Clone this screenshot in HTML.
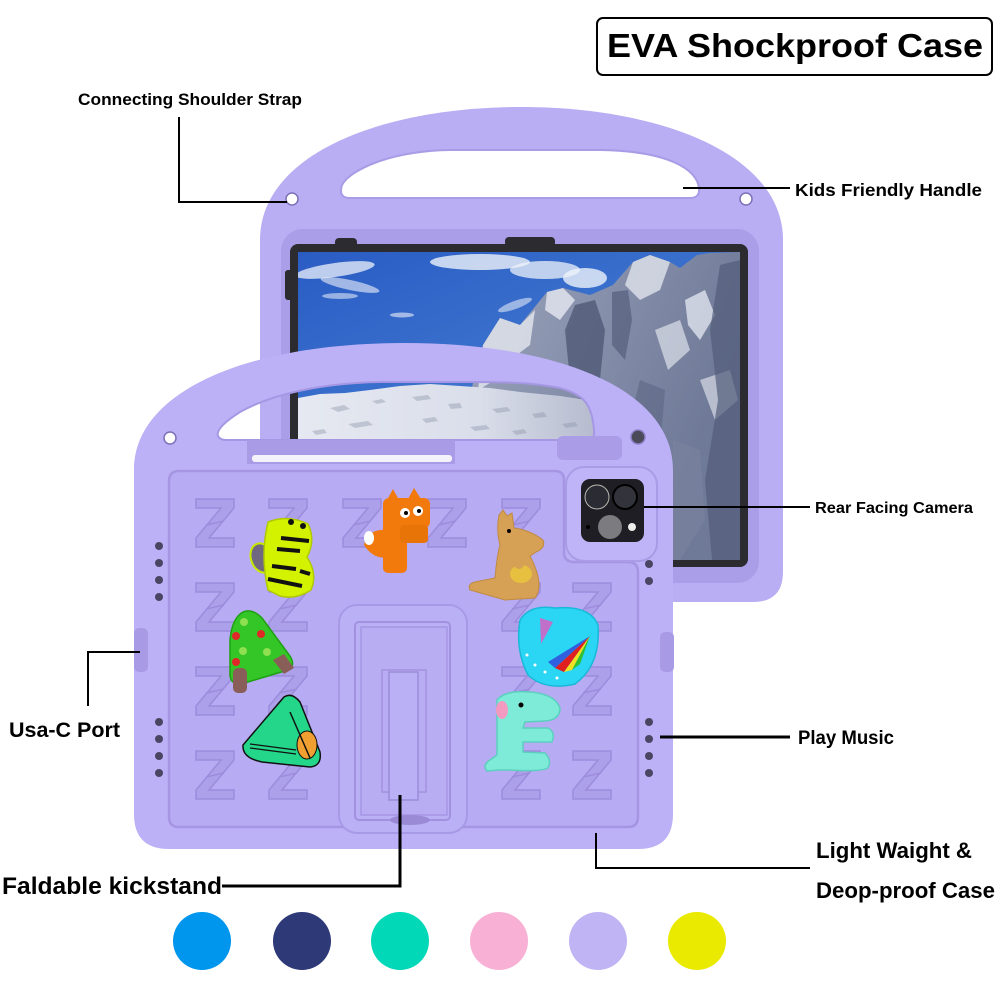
<!DOCTYPE html>
<html><head><meta charset="utf-8"><style>
html,body{margin:0;padding:0;background:#fff;}
svg{display:block;}
text{font-family:"Liberation Sans",Arial,sans-serif;font-weight:bold;fill:#000;}
</style></head><body>
<svg width="1000" height="1000" viewBox="0 0 1000 1000" xmlns="http://www.w3.org/2000/svg">
<defs>
<linearGradient id="sky" x1="0" y1="0" x2="0.6" y2="1">
<stop offset="0" stop-color="#2a5cc4"/><stop offset="1" stop-color="#4f8ad8"/>
</linearGradient>
<linearGradient id="mnt" x1="0" y1="0" x2="1" y2="0.3">
<stop offset="0" stop-color="#cfd4e2"/><stop offset="0.4" stop-color="#9aa2ba"/><stop offset="1" stop-color="#6f7a98"/>
</linearGradient>
<linearGradient id="snow" x1="0" y1="0" x2="1" y2="0">
<stop offset="0" stop-color="#e6e9f1"/><stop offset="0.6" stop-color="#dadeea"/><stop offset="1" stop-color="#b4bacd"/>
</linearGradient>
<clipPath id="scr"><rect x="298" y="252" width="442" height="308"/></clipPath>
<path id="z" d="M0,0 L38,0 L38,9 L13,39 L38,39 L38,48 L0,48 L0,39 L25,9 L0,9 Z M10,26 L28,22" />
</defs>

<!-- Title box -->
<rect x="597" y="18" width="395" height="57" rx="6" fill="#fff" stroke="#000" stroke-width="2"/>
<text x="607" y="57" font-size="33" textLength="376" lengthAdjust="spacingAndGlyphs">EVA Shockproof Case</text>

<!-- BACK CASE -->
<path d="M260,240 C260,155 380,107 521,107 C662,107 783,155 783,240 L783,572 Q783,602 753,602 L290,602 Q260,602 260,572 Z" fill="#b9adf3"/>
<path d="M350,198 L690,198 Q700,198 699,188 C697,170 670,151 600,150 L450,150 C390,151 350,170 342,185 Q338,198 350,198 Z" fill="#fff" stroke="#a99be6" stroke-width="2"/>
<circle cx="292" cy="199" r="6" fill="#fff" stroke="#7d70b8" stroke-width="1.5"/>
<circle cx="746" cy="199" r="6" fill="#fff" stroke="#7d70b8" stroke-width="1.5"/>
<rect x="281" y="229" width="478" height="354" rx="22" fill="#ab9ee8"/>
<rect x="290" y="244" width="458" height="323" rx="8" fill="#2b2b30"/>
<rect x="335" y="238" width="22" height="10" rx="4" fill="#2b2b30"/>
<rect x="505" y="237" width="50" height="10" rx="4" fill="#2b2b30"/>
<rect x="285" y="270" width="8" height="30" rx="3" fill="#2b2b30"/>

<!-- screen -->
<g clip-path="url(#scr)">
<rect x="298" y="252" width="442" height="308" fill="url(#sky)"/>
<g fill="#eef2fa">
<ellipse cx="335" cy="270" rx="40" ry="7" opacity="0.75" transform="rotate(-8 335 270)"/>
<ellipse cx="350" cy="285" rx="30" ry="5" opacity="0.6" transform="rotate(12 350 285)"/>
<ellipse cx="340" cy="296" rx="18" ry="3" opacity="0.55"/>
<ellipse cx="480" cy="262" rx="50" ry="8" opacity="0.8"/>
<ellipse cx="545" cy="270" rx="35" ry="9" opacity="0.75"/>
<ellipse cx="585" cy="278" rx="22" ry="10" opacity="0.8"/>
<ellipse cx="515" cy="305" rx="18" ry="4" opacity="0.55" transform="rotate(-20 515 305)"/>
<ellipse cx="402" cy="315" rx="12" ry="2.5" opacity="0.6"/>
</g>
<path d="M470,395 L483,345 L500,318 L520,325 L547,292 L563,288 L590,295 L613,285 L633,262 L650,255 L670,262 L680,268 L697,255 L710,253 L740,252 L740,560 L298,560 L298,420 Z" fill="url(#mnt)"/>
<path d="M483,345 L500,318 L520,325 L535,310 L530,345 L510,360 L495,380 L478,390 Z" fill="#e3e7ef" opacity="0.8"/>
<path d="M547,292 L563,288 L575,300 L560,320 L545,310 Z" fill="#e6e9f1" opacity="0.8"/>
<path d="M633,262 L650,255 L670,262 L660,290 L640,300 L625,285 Z" fill="#e0e4ec" opacity="0.8"/>
<path d="M685,300 L705,290 L715,315 L700,340 L688,325 Z" fill="#e6e9f1" opacity="0.75"/>
<path d="M655,330 L680,320 L690,350 L668,370 Z" fill="#dde1ea" opacity="0.7"/>
<path d="M700,380 L730,370 L738,400 L715,420 Z" fill="#d8dce6" opacity="0.7"/>
<path d="M575,305 L595,300 L605,330 L600,380 L585,410 L570,380 L565,330 Z" fill="#4c5573" opacity="0.75"/>
<path d="M612,292 L628,290 L632,320 L625,360 L612,345 Z" fill="#555e7c" opacity="0.7"/>
<path d="M720,265 L740,260 L740,560 L712,560 L705,480 L718,400 L710,330 Z" fill="#525c7a" opacity="0.7"/>
<path d="M640,380 L665,390 L660,450 L640,470 L630,420 Z" fill="#5d6785" opacity="0.6"/>
<path d="M673,440 L700,450 L705,520 L680,560 L673,560 Z" fill="#7c84a0" opacity="0.6"/>
<path d="M298,398 L320,394 L345,393 L370,390 L400,386 L430,384 L460,386 L490,388 L520,392 L560,396 L600,402 L600,560 L298,560 Z" fill="url(#snow)"/>
<g fill="#8c93a8" opacity="0.4">
<path d="M330,408 l14,-3 l6,4 l-12,3 z"/><path d="M372,401 l10,-2 l4,3 l-9,2 z"/><path d="M412,397 l16,-2 l3,4 l-14,2 z"/>
<path d="M448,404 l12,-1 l2,5 l-11,1 z"/><path d="M492,409 l15,-2 l4,4 l-14,2 z"/><path d="M532,414 l12,-2 l3,5 l-12,1 z"/>
<path d="M348,424 l20,-3 l5,4 l-18,3 z"/><path d="M422,419 l13,-2 l3,4 l-12,2 z"/><path d="M470,427 l16,-2 l4,4 l-15,2 z"/>
<path d="M562,424 l13,-2 l3,4 l-12,2 z"/><path d="M312,431 l12,-2 l3,4 l-11,2 z"/><path d="M512,431 l12,-2 l3,4 l-11,2 z"/>
</g>
</g>

<!-- FRONT CASE -->
<path fill-rule="evenodd" d="M134,470 C134,390 250,343 404,343 C560,343 673,390 673,470 L673,814 Q673,849 638,849 L169,849 Q134,849 134,814 Z M226,440 L588,440 Q595,440 594,430 C592,405 585,395 560,388 C530,382 500,382 470,382 L380,382 C320,383 270,395 240,412 Q215,428 218,436 Q220,440 226,440 Z" fill="#bcb1f6"/>
<path d="M226,440 L588,440 Q595,440 594,430 C592,405 585,395 560,388 C530,382 500,382 470,382 L380,382 C320,383 270,395 240,412 Q215,428 218,436 Q220,440 226,440 Z" fill="none" stroke="#a697e4" stroke-width="2"/>
<rect x="247" y="440" width="208" height="24" fill="#aa9be7"/>
<rect x="252" y="455" width="200" height="7" rx="3" fill="#f4f2fb"/>
<rect x="557" y="436" width="65" height="24" rx="6" fill="#ab9ce7"/>
<circle cx="170" cy="438" r="6" fill="#fff" stroke="#7d70b8" stroke-width="1.5"/>
<circle cx="638" cy="437" r="7" fill="#4a4a58" stroke="#8d80c8" stroke-width="1.5"/>
<rect x="134" y="628" width="14" height="44" rx="5" fill="#a99ae6"/>
<rect x="660" y="632" width="14" height="40" rx="5" fill="#a99ae6"/>
<path d="M179,471 L555,471 Q564,471 564,480 L564,552 Q564,562 574,562 L628,562 Q638,562 638,572 L638,817 Q638,827 628,827 L179,827 Q169,827 169,817 L169,481 Q169,471 179,471 Z" fill="#b7abf3" stroke="#a595e3" stroke-width="2.5"/>

<!-- Z letters -->
<g fill="#ada0ea" stroke="#9c8cdc" stroke-width="1.5">
<use href="#z" x="196" y="499"/><use href="#z" x="269" y="499"/><use href="#z" x="343" y="499"/><use href="#z" x="428" y="499"/><use href="#z" x="502" y="499"/>
<use href="#z" x="196" y="583"/><use href="#z" x="269" y="583"/><use href="#z" x="502" y="583"/><use href="#z" x="573" y="583"/>
<use href="#z" x="196" y="667"/><use href="#z" x="269" y="667"/><use href="#z" x="502" y="667"/><use href="#z" x="573" y="667"/>
<use href="#z" x="196" y="751"/><use href="#z" x="269" y="751"/><use href="#z" x="502" y="751"/><use href="#z" x="573" y="751"/>
</g>

<!-- camera -->
<rect x="566" y="467" width="91" height="94" rx="18" fill="#bfb4f7" stroke="#a99be6" stroke-width="2"/>
<rect x="581" y="479" width="63" height="63" rx="9" fill="#1e1e24"/>
<circle cx="597" cy="497" r="12" fill="#2b2b34" stroke="#b8b8b0" stroke-width="1"/>
<circle cx="625" cy="497" r="12" fill="#33333c" stroke="#000" stroke-width="2"/>
<circle cx="610" cy="527" r="12" fill="#7c7c80"/>
<circle cx="632" cy="527" r="4" fill="#eee"/>
<circle cx="588" cy="527" r="2" fill="#000"/>

<!-- speaker dots -->
<g fill="#4a4562">
<circle cx="159" cy="546" r="4"/><circle cx="159" cy="563" r="4"/><circle cx="159" cy="580" r="4"/><circle cx="159" cy="597" r="4"/>
<circle cx="159" cy="722" r="4"/><circle cx="159" cy="739" r="4"/><circle cx="159" cy="756" r="4"/><circle cx="159" cy="773" r="4"/>
<circle cx="649" cy="564" r="4"/><circle cx="649" cy="581" r="4"/>
<circle cx="649" cy="722" r="4"/><circle cx="649" cy="739" r="4"/><circle cx="649" cy="756" r="4"/><circle cx="649" cy="773" r="4"/>
</g>

<!-- kickstand -->
<rect x="339" y="605" width="128" height="228" rx="18" fill="#bab0f5" stroke="#a899e6" stroke-width="2"/>
<rect x="355" y="622" width="95" height="198" rx="4" fill="none" stroke="#a191df" stroke-width="2"/>
<rect x="361" y="627" width="86" height="188" fill="#b8acf3" stroke="#a595e3" stroke-width="1.5"/>
<rect x="382" y="670" width="44" height="122" fill="none" stroke="#a292e0" stroke-width="1.5"/>
<rect x="389" y="672" width="29" height="128" fill="#bab0f5" stroke="#9b8bd8" stroke-width="1.5"/>
<ellipse cx="410" cy="820" rx="20" ry="5" fill="#9a8ad6"/>

<!-- stickers -->
<!-- bee -->
<ellipse cx="262" cy="558" rx="11" ry="15" fill="#6e6880" stroke="#c8e800" stroke-width="2" transform="rotate(-20 262 558)"/>
<path d="M268,522 Q288,514 308,524 Q316,540 307,557 Q318,574 311,590 Q296,600 280,596 L268,590 Q260,555 268,522 Z" fill="#d2f200" stroke="#b0c800" stroke-width="1.5"/>
<g stroke="#111" stroke-width="4"><line x1="281" y1="538" x2="309" y2="541"/><line x1="277" y1="549" x2="300" y2="551"/><line x1="272" y1="566" x2="296" y2="569"/><line x1="300" y1="571" x2="310" y2="574"/><line x1="268" y1="579" x2="302" y2="586"/></g>
<circle cx="291" cy="522" r="3" fill="#111"/><circle cx="303" cy="526" r="3" fill="#111"/>
<!-- fox -->
<path d="M364,545 Q368,528 388,530 L392,556 Q375,562 364,545 Z" fill="#f27a0c"/>
<ellipse cx="369" cy="538" rx="5" ry="7" fill="#fff"/>
<rect x="383" y="505" width="24" height="68" rx="5" fill="#f27a0c"/>
<rect x="383" y="498" width="47" height="30" rx="6" fill="#f27a0c"/>
<path d="M387,500 L393,489 L399,500 Z M408,499 L414,488 L421,499 Z" fill="#f27a0c"/>
<rect x="400" y="525" width="28" height="18" rx="4" fill="#e87408"/>
<circle cx="405" cy="513" r="5" fill="#fff"/><circle cx="418" cy="511" r="5" fill="#fff"/>
<circle cx="406" cy="513" r="2" fill="#000"/><circle cx="419" cy="511" r="2" fill="#000"/>
<!-- kangaroo -->
<path d="M499,515 L503,510 L507,516 L512,513 L514,528 Q530,530 543,540 Q546,548 536,552 L530,556 Q545,585 535,598 L505,600 L470,590 Q467,584 475,582 L495,578 Q497,555 500,545 Q496,530 499,515 Z" fill="#d6a055" stroke="#c08a40" stroke-width="1"/>
<ellipse cx="521" cy="574" rx="11" ry="9" fill="#e8c040"/>
<circle cx="519" cy="564" r="5" fill="#d6a055"/>
<circle cx="509" cy="531" r="2" fill="#000"/>
<!-- tree A -->
<path d="M243,612 Q252,608 262,618 L290,656 Q296,666 288,670 L248,682 Q232,688 230,676 L230,640 Q232,618 243,612 Z" fill="#34c526" stroke="#1fa014" stroke-width="1.5"/>
<rect x="233" y="668" width="14" height="25" rx="5" fill="#8a5e58"/>
<path d="M273,660 L284,654 L294,668 L284,674 Z" fill="#8a5e58"/>
<g fill="#e02828"><circle cx="236" cy="636" r="4"/><circle cx="261" cy="634" r="4"/><circle cx="236" cy="662" r="4"/></g>
<g fill="#8ee050"><circle cx="244" cy="622" r="4"/><circle cx="243" cy="651" r="4"/><circle cx="267" cy="652" r="4"/></g>
<!-- music -->
<path d="M284,697 Q292,692 300,702 L320,752 Q322,766 310,767 L262,762 Q242,758 243,745 Z" fill="#24d68a" stroke="#111" stroke-width="1.5"/>
<ellipse cx="307" cy="745" rx="10" ry="14" fill="#f0a030" stroke="#111" stroke-width="1"/>
<line x1="290" y1="712" x2="310" y2="758" stroke="#111" stroke-width="1.5"/>
<g stroke="#111" stroke-width="1.2"><line x1="250" y1="744" x2="296" y2="750"/><line x1="250" y1="748" x2="296" y2="754"/></g>
<!-- umbrella U -->
<path d="M520,620 Q530,604 555,608 Q590,605 598,625 Q601,665 575,684 Q545,691 528,675 Q515,650 520,620 Z" fill="#2ad6f4" stroke="#1ab8d8" stroke-width="1.5"/>
<path d="M590,636 L555,668 L564,672 Z" fill="#e02020"/>
<path d="M590,636 L564,672 L572,670 Z" fill="#f0e020"/>
<path d="M590,636 L572,670 L580,664 Z" fill="#30c030"/>
<path d="M590,636 L548,662 L555,668 Z" fill="#3060e0"/>
<path d="M540,618 L541,644 L553,622 Z" fill="#c070c8"/>
<g fill="#fff"><circle cx="527" cy="655" r="1.5"/><circle cx="535" cy="665" r="1.5"/><circle cx="545" cy="672" r="1.5"/><circle cx="557" cy="678" r="1.5"/></g>
<!-- elephant E -->
<path d="M497,700 Q505,690 530,692 Q555,694 560,708 Q560,720 545,721 L525,722 L523,728 L548,728 Q556,732 552,742 L523,742 L523,752 L545,753 Q552,760 548,768 Q540,772 510,770 L500,770 L487,771 Q482,765 490,760 L497,755 Z" fill="#7eead8" stroke="#5ccfbf" stroke-width="1.5"/>
<ellipse cx="502" cy="710" rx="6" ry="9" fill="#f29ac0"/>
<circle cx="521" cy="705" r="2.5" fill="#000"/>

<!-- connector lines -->
<g stroke="#000" stroke-width="2" fill="none">
<polyline points="179,117 179,202 287,202"/>
<line x1="683" y1="188" x2="790" y2="188"/>
<line x1="644" y1="507" x2="810" y2="507"/>
<polyline points="140,652 88,652 88,706"/>
<line x1="660" y1="737" x2="790" y2="737" stroke-width="3"/>
<polyline points="222,886 400,886 400,795" stroke-width="3"/>
<polyline points="596,833 596,868 810,868"/>
</g>

<!-- labels -->
<text x="78" y="105" font-size="16.5" textLength="224" lengthAdjust="spacingAndGlyphs">Connecting Shoulder Strap</text>
<text x="795" y="196" font-size="17.5" textLength="187" lengthAdjust="spacingAndGlyphs">Kids Friendly Handle</text>
<text x="815" y="513" font-size="16" textLength="158" lengthAdjust="spacingAndGlyphs">Rear Facing Camera</text>
<text x="798" y="744" font-size="19" textLength="96" lengthAdjust="spacingAndGlyphs">Play Music</text>
<text x="9" y="737" font-size="21" textLength="111" lengthAdjust="spacingAndGlyphs">Usa-C Port</text>
<text x="2" y="894" font-size="24" textLength="220" lengthAdjust="spacingAndGlyphs">Faldable kickstand</text>
<text x="816" y="858" font-size="22" textLength="156" lengthAdjust="spacingAndGlyphs">Light Waight &amp;</text>
<text x="816" y="898" font-size="22" textLength="179" lengthAdjust="spacingAndGlyphs">Deop-proof Case</text>

<!-- color swatches -->
<circle cx="202" cy="941" r="29" fill="#0096ee"/>
<circle cx="302" cy="941" r="29" fill="#2e3a78"/>
<circle cx="400" cy="941" r="29" fill="#00d8b8"/>
<circle cx="499" cy="941" r="29" fill="#f8b0d4"/>
<circle cx="598" cy="941" r="29" fill="#c0b4f4"/>
<circle cx="697" cy="941" r="29" fill="#eaea00"/>
</svg>
</body></html>
